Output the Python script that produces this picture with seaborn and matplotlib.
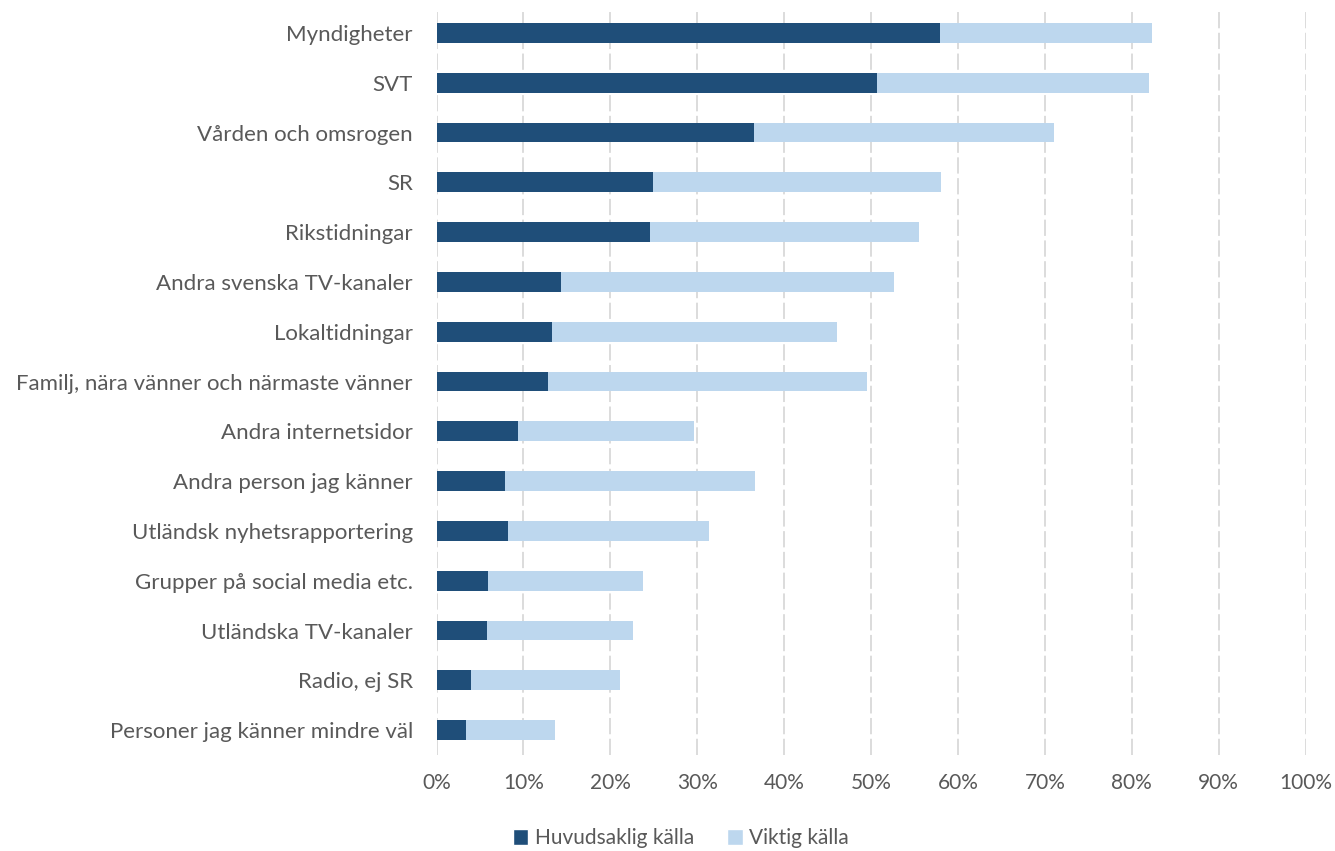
import pandas as pd
import numpy as np
import matplotlib
matplotlib.use("Agg")
import matplotlib.pyplot as plt
import seaborn as sns
from matplotlib.patches import Patch

categories = [
    "Myndigheter", "SVT", "Vården och omsrogen", "SR", "Rikstidningar",
    "Andra svenska TV-kanaler", "Lokaltidningar",
    "Familj, nära vänner och närmaste vänner", "Andra internetsidor",
    "Andra person jag känner", "Utländsk nyhetsrapportering",
    "Grupper på social media etc.", "Utländska TV-kanaler", "Radio, ej SR",
    "Personer jag känner mindre väl",
]
huvudsaklig = [57.9, 50.7, 36.5, 24.9, 24.6, 14.3, 13.3, 12.8, 9.4, 7.9, 8.2, 5.9, 5.8, 4.0, 3.4]
viktig = [24.4, 31.3, 34.5, 33.2, 30.9, 38.3, 32.8, 36.7, 20.2, 28.8, 23.1, 17.8, 16.8, 17.1, 10.2]

dark = "#1f4e79"
light = "#bdd7ee"

df = pd.DataFrame({"kategori": categories,
                   "huvud": huvudsaklig,
                   "viktig": viktig})
df["total"] = df["huvud"] + df["viktig"]

sns.set_style("white")
plt.rcParams["font.family"] = ["Lato", "DejaVu Sans"]

fig = plt.figure(figsize=(13.35, 8.51), dpi=100)
ax = fig.add_axes([0.327, 0.1128, 0.651, 0.8778])

# light bar = total, dark bar drawn on top
sns.barplot(data=df, y="kategori", x="total", color=light, width=0.4,
            orient="h", ax=ax, saturation=1, linewidth=0)
sns.barplot(data=df, y="kategori", x="huvud", color=dark, width=0.4,
            orient="h", ax=ax, saturation=1, linewidth=0)

ax.set_xlim(0, 100)
ax.set_ylim(len(categories) - 0.5, -0.5)
ax.set_xticks(np.arange(0, 101, 10))
ax.set_xticklabels([f"{t}%" for t in range(0, 101, 10)])
ax.set_xlabel("")
ax.set_ylabel("")
ax.set_axisbelow(True)
ax.xaxis.grid(True, color="#d9d9d9", linewidth=1.3, linestyle=(0, (9, 2.5)))
for s in ax.spines.values():
    s.set_visible(False)
ax.tick_params(axis="both", length=0, colors="#595959")
ax.tick_params(axis="y", labelsize=16, pad=17)
ax.tick_params(axis="x", labelsize=15, pad=13)

handles = [Patch(facecolor=dark, label="Huvudsaklig källa"),
           Patch(facecolor=light, label="Viktig källa")]
fig.legend(handles=handles, loc="center", bbox_to_anchor=(0.5 + 0.01, 0.015),
           ncol=2, frameon=False, fontsize=15, handlelength=0.75,
           handleheight=0.75, handletextpad=0.3, columnspacing=1.6,
           labelcolor="#595959")

fig.savefig("out.png", dpi=100)
